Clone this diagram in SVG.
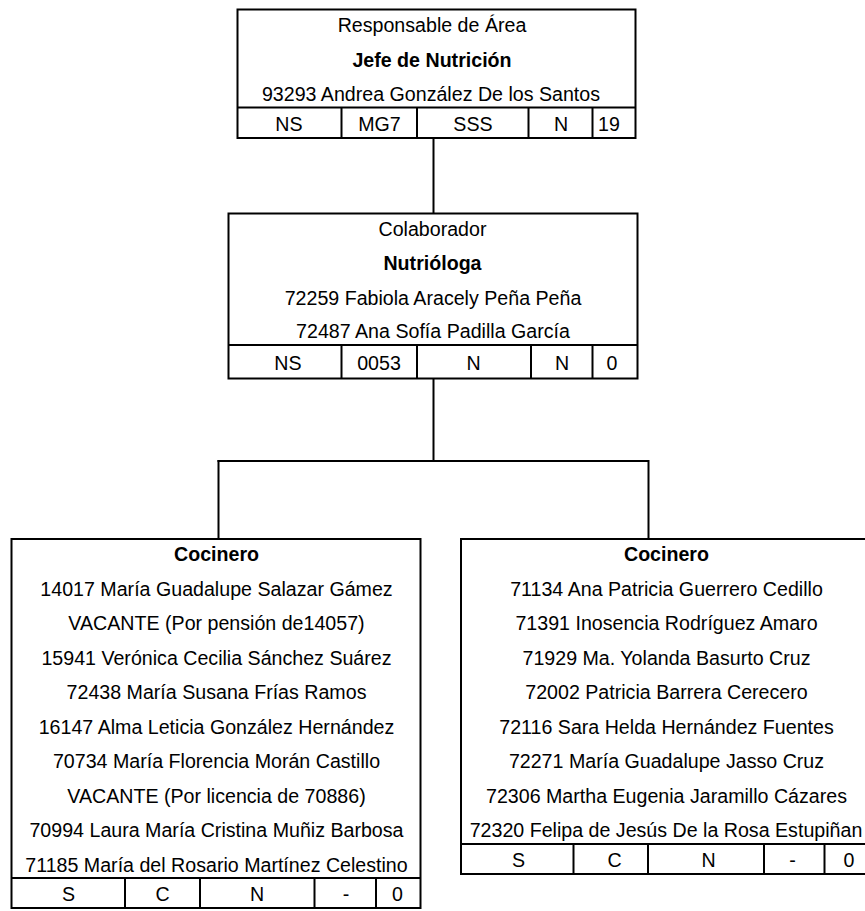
<svg xmlns="http://www.w3.org/2000/svg" width="865" height="911" viewBox="0 0 865 911">
<style>
.b{fill:#fff;stroke:#000;stroke-width:2}
.l{stroke:#000;stroke-width:2;fill:none}
text{font-family:"Liberation Sans",Arial,sans-serif;font-size:21px;fill:#000;text-anchor:middle}
.t{font-weight:bold}
</style>
<rect width="865" height="911" fill="#fff"/>
<g id="connectors" class="l">
<line x1="433.5" y1="138" x2="433.5" y2="213"/>
<line x1="433.5" y1="378" x2="433.5" y2="461"/>
<line x1="217.5" y1="461" x2="649" y2="461"/>
<line x1="218.5" y1="460" x2="218.5" y2="539"/>
<line x1="648.5" y1="460" x2="648.5" y2="539"/>
</g>
<g id="jefe">
<rect class="b" x="237.5" y="9.5" width="398" height="128.5"/>
<line class="l" x1="237.5" y1="107.5" x2="635.5" y2="107.5"/>
<line class="l" x1="341.5" y1="107.5" x2="341.5" y2="138"/>
<line class="l" x1="417" y1="107.5" x2="417" y2="138"/>
<line class="l" x1="528.5" y1="107.5" x2="528.5" y2="138"/>
<line class="l" x1="592.5" y1="107.5" x2="592.5" y2="138"/>
<g transform="scale(0.935 1)">
<text x="462.03" y="32">Responsable de Área</text>
<text class="t" x="462.03" y="67">Jefe de Nutrición</text>
<text x="460.96" y="101.5">93293 Andrea González De los Santos</text>
<text x="309.09" y="131.5">NS</text>
<text x="405.88" y="131.5">MG7</text>
<text x="505.88" y="131.5">SSS</text>
<text x="600" y="131.5">N</text>
<text x="651.34" y="131.5">19</text>
</g>
</g>
<g id="nutriologa">
<rect class="b" x="228.5" y="213.5" width="409" height="165"/>
<line class="l" x1="228.5" y1="345" x2="637.5" y2="345"/>
<line class="l" x1="341.5" y1="345" x2="341.5" y2="378.5"/>
<line class="l" x1="417" y1="345" x2="417" y2="378.5"/>
<line class="l" x1="531" y1="345" x2="531" y2="378.5"/>
<line class="l" x1="592.5" y1="345" x2="592.5" y2="378.5"/>
<g transform="scale(0.935 1)">
<text x="462.57" y="236.5">Colaborador</text>
<text class="t" x="462.57" y="270">Nutrióloga</text>
<text x="463.1" y="305">72259 Fabiola Aracely Peña Peña</text>
<text x="463.1" y="338.5">72487 Ana Sofía Padilla García</text>
<text x="308.02" y="370">NS</text>
<text x="405.35" y="370">0053</text>
<text x="506.42" y="370">N</text>
<text x="601.07" y="370">N</text>
<text x="654.55" y="370">0</text>
</g>
</g>
<g id="cocinero-1">
<rect class="b" x="11.5" y="539" width="409" height="369"/>
<line class="l" x1="11.5" y1="878" x2="420.5" y2="878"/>
<line class="l" x1="125" y1="878" x2="125" y2="908"/>
<line class="l" x1="200" y1="878" x2="200" y2="908"/>
<line class="l" x1="314.5" y1="878" x2="314.5" y2="908"/>
<line class="l" x1="376" y1="878" x2="376" y2="908"/>
<g transform="scale(0.935 1)">
<text class="t" x="231.55" y="561.5">Cocinero</text>
<text x="231.55" y="596">14017 María Guadalupe Salazar Gámez</text>
<text x="231.55" y="630.5">VACANTE (Por pensión de14057)</text>
<text x="231.55" y="665">15941 Verónica Cecilia Sánchez Suárez</text>
<text x="231.55" y="699.4">72438 María Susana Frías Ramos</text>
<text x="231.55" y="733.8">16147 Alma Leticia González Hernández</text>
<text x="231.55" y="768.3">70734 María Florencia Morán Castillo</text>
<text x="231.55" y="802.7">VACANTE (Por licencia de 70886)</text>
<text x="231.55" y="837.2">70994 Laura María Cristina Muñiz Barbosa</text>
<text x="231.55" y="871.6">71185 María del Rosario Martínez Celestino</text>
<text x="73.26" y="901">S</text>
<text x="173.8" y="901">C</text>
<text x="274.87" y="901">N</text>
<text x="370.05" y="901">-</text>
<text x="425.13" y="901">0</text>
</g>
</g>
<g id="cocinero-2">
<rect class="b" x="461" y="539" width="411" height="335"/>
<line class="l" x1="461" y1="844" x2="872" y2="844"/>
<line class="l" x1="573.5" y1="844" x2="573.5" y2="874"/>
<line class="l" x1="648" y1="844" x2="648" y2="874"/>
<line class="l" x1="764" y1="844" x2="764" y2="874"/>
<line class="l" x1="824.5" y1="844" x2="824.5" y2="874"/>
<g transform="scale(0.935 1)">
<text class="t" x="712.83" y="561.5">Cocinero</text>
<text x="712.83" y="596">71134 Ana Patricia Guerrero Cedillo</text>
<text x="712.83" y="630.5">71391 Inosencia Rodríguez Amaro</text>
<text x="712.83" y="665">71929 Ma. Yolanda Basurto Cruz</text>
<text x="712.83" y="699.4">72002 Patricia Barrera Cerecero</text>
<text x="712.83" y="733.8">72116 Sara Helda Hernández Fuentes</text>
<text x="712.83" y="768.3">72271 María Guadalupe Jasso Cruz</text>
<text x="712.83" y="802.7">72306 Martha Eugenia Jaramillo Cázares</text>
<text x="712.3" y="837.2">72320 Felipa de Jesús De la Rosa Estupiñan</text>
<text x="554.55" y="867">S</text>
<text x="657.22" y="867">C</text>
<text x="757.76" y="867">N</text>
<text x="847.59" y="867">-</text>
<text x="908.02" y="867">0</text>
</g>
</g>
</svg>
